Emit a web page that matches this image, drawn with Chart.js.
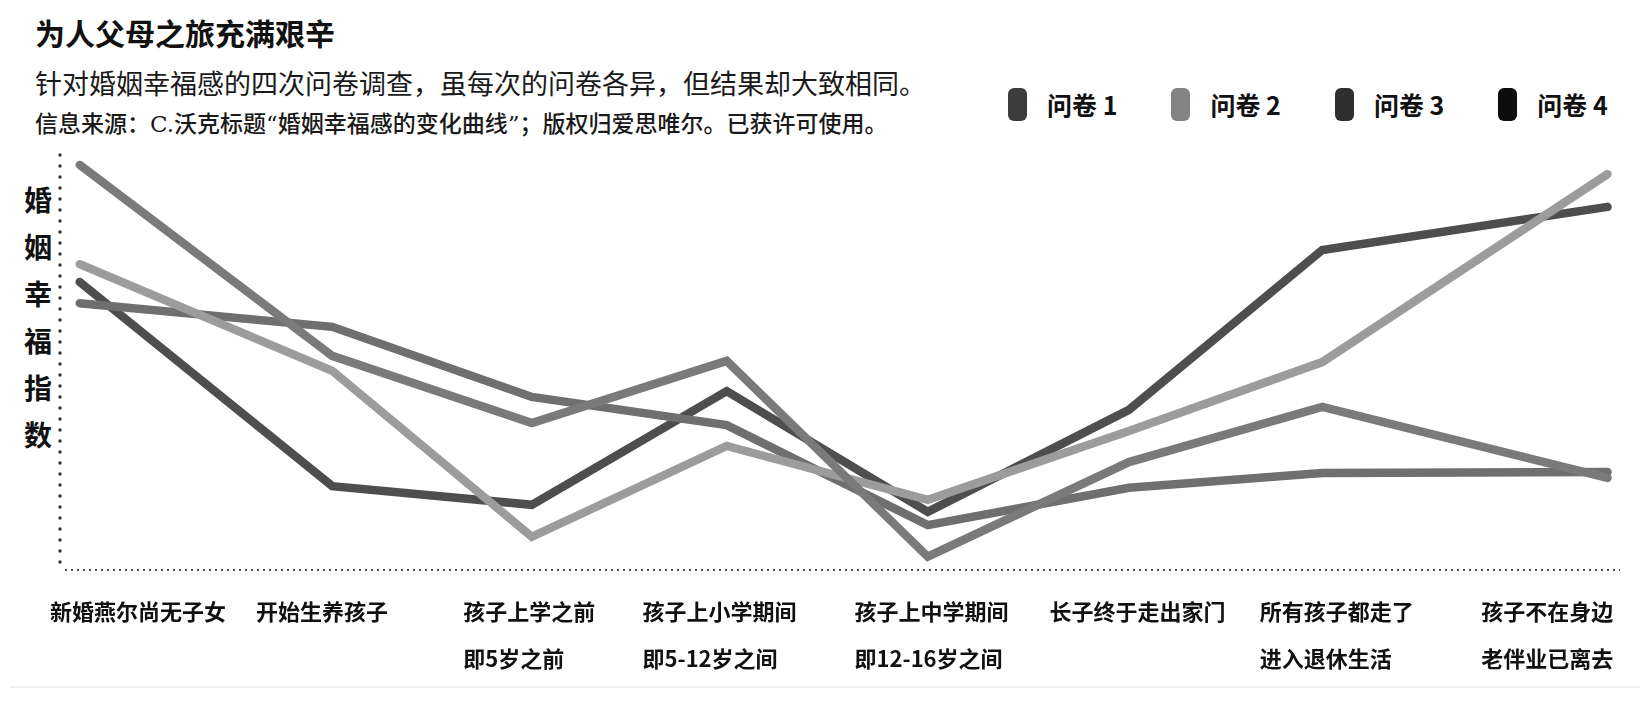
<!DOCTYPE html>
<html lang="zh-CN">
<head>
<meta charset="utf-8">
<title>为人父母之旅充满艰辛</title>
<script src="https://cdn.jsdelivr.net/npm/chart.js@4.4.1/dist/chart.umd.min.js"></script>
<style>
  html, body { margin: 0; padding: 0; background: #fff; }
  body { width: 1650px; height: 708px; position: relative; overflow: hidden;
         font-family: "Noto Sans CJK SC", "Noto Sans", sans-serif; color: #111; }
  #chart { position: absolute; left: 0; top: 0; }
  .title { position: absolute; left: 35px; top: 12px; font-size: 30px; font-weight: 700; line-height: 40px; }
  .subtitle { position: absolute; left: 35px; top: 66px; font-size: 27px; font-weight: 400; line-height: 38px;
              font-family: "DejaVu Serif", "Noto Sans CJK SC", serif; color: #1a1a1a; }
  .source { position: absolute; left: 35px; top: 108px; font-size: 23px; font-weight: 500; line-height: 32px;
            font-family: "DejaVu Serif", "Noto Sans CJK SC", serif; color: #1a1a1a; }
  .ylabel { position: absolute; left: 22px; top: 176px; width: 32px; font-size: 28px; font-weight: 700;
            line-height: 47px; text-align: center; }
  .legend { position: absolute; left: 1008px; top: 88px; display: flex; align-items: center; gap: 54px; }
  .legend .item { display: flex; align-items: center; }
  .legend .box { width: 19px; height: 33px; border-radius: 6px; margin-right: 20px; }
  .legend .txt { font-size: 25px; font-weight: 700; line-height: 33px; white-space: nowrap; }
  .rule { position: absolute; left: 10px; right: 10px; top: 686px; height: 2px; background: #efefef; }
</style>
</head>
<body>
<div class="title">为人父母之旅充满艰辛</div>
<div class="subtitle">针对婚姻幸福感的四次问卷调查，虽每次的问卷各异，但结果却大致相同。</div>
<div class="source">信息来源：C.沃克标题“婚姻幸福感的变化曲线”；版权归爱思唯尔。已获许可使用。</div>
<div class="ylabel" id="ylabel"></div>
<div class="legend" id="legend"></div>
<div class="rule"></div>
<canvas id="chart" width="1650" height="708"></canvas>

<script>
// 人生阶段（横轴）
const stages = [
  ['新婚燕尔尚无子女'],
  ['开始生养孩子'],
  ['孩子上学之前', '即5岁之前'],
  ['孩子上小学期间', '即5-12岁之间'],
  ['孩子上中学期间', '即12-16岁之间'],
  ['长子终于走出家门'],
  ['所有孩子都走了', '进入退休生活'],
  ['孩子不在身边', '老伴业已离去'],
];
// 各阶段在时间轴上的位置（0-100）
const stageX = [1.2, 17.4, 30.2, 42.7, 55.6, 68.5, 80.9, 99.2];
// 阶段文字左端的位置
const labelX = [-0.7, 12.5, 25.8, 37.3, 50.9, 63.4, 76.9, 91.1];

const seriesNames = ['问卷 1', '问卷 2', '问卷 3', '问卷 4'];
// 婚姻幸福指数（0-100，读自原图）
const survey1 = [97.6, 51.6, 35.4, 50.4, 3.2, 26.0, 39.3, 22.2];
const survey2 = [73.7, 48.0, 8.0, 29.9, 16.9, 33.5, 50.1, 95.4];
const survey3 = [64.3, 58.6, 41.7, 34.9, 10.8, 19.8, 23.4, 23.6];
const survey4 = [69.4, 20.2, 15.7, 43.1, 14.0, 38.6, 77.1, 87.5];

const lineColors = ['#7a7a7a', '#9c9c9c', '#6f6f6f', '#4e4e4e'];
const legendColors = ['#3c3c3c', '#838383', '#2f2f2f', '#0d0d0d'];

const yTitle = '婚姻幸福指数';

const toPoints = vals => vals.map((v, i) => ({ x: stageX[i], y: v }));
const allSeries = [survey1, survey2, survey3, survey4];

// 点状坐标轴（Chart.js v4 的 border.dash 只作用于网格线）
const dottedAxes = {
  id: 'dottedAxes',
  beforeDatasetsDraw(chart) {
    const { ctx, chartArea: { left, right, top, bottom } } = chart;
    ctx.save();
    // 纵轴：较大的圆点
    ctx.strokeStyle = '#333';
    ctx.lineWidth = 3.5;
    ctx.lineCap = 'round';
    ctx.setLineDash([0, 11]);
    ctx.beginPath();
    ctx.moveTo(left - 1, top);
    ctx.lineTo(left - 1, bottom);
    ctx.stroke();
    // 横轴：细密小点
    ctx.strokeStyle = '#555';
    ctx.lineWidth = 2;
    ctx.lineCap = 'butt';
    ctx.setLineDash([2, 4]);
    ctx.beginPath();
    ctx.moveTo(left + 4, bottom);
    ctx.lineTo(right, bottom);
    ctx.stroke();
    ctx.restore();
  },
};

const chart = new Chart(document.getElementById('chart'), {
  type: 'line',
  data: {
    datasets: allSeries.map((vals, i) => ({
      label: seriesNames[i],
      data: toPoints(vals),
      borderColor: lineColors[i],
      backgroundColor: legendColors[i],
      borderWidth: 8.5,
      borderCapStyle: 'round',
      pointRadius: 0,
      pointHoverRadius: 0,
      tension: 0,
      fill: false,
    })),
  },
  options: {
    responsive: false,
    animation: false,
    events: [],
    layout: { padding: { left: 61, right: 30, top: 155, bottom: 24 } },
    plugins: {
      legend: { display: false },
      tooltip: { enabled: false },
    },
    scales: {
      x: {
        type: 'linear',
        min: 0,
        max: 100,
        grid: { display: false, drawTicks: false },
        border: { display: false },
        afterBuildTicks: scale => { scale.ticks = labelX.map(v => ({ value: v })); },
        afterFit: scale => { scale.height = 114; },
        ticks: {
          align: 'start',
          autoSkip: false,
          maxRotation: 0,
          minRotation: 0,
          padding: 18,
          color: '#111',
          font: { family: '"Noto Sans CJK SC", sans-serif', size: 22, weight: 'bold', lineHeight: 2.14 },
          callback: (v, i) => stages[i],
        },
      },
      y: {
        type: 'linear',
        min: 0,
        max: 100,
        grid: { display: false, drawTicks: false },
        border: { display: false },
        ticks: { display: false },
        afterFit: scale => { scale.width = 0; },
      },
    },
  },
  plugins: [dottedAxes],
});

// 纵轴标题：竖排
document.getElementById('ylabel').innerHTML = [...yTitle].map(c => `<div>${c}</div>`).join('');

// 图例
document.getElementById('legend').innerHTML = chart.data.datasets.map((d, i) => `
  <div class="item">
    <div class="box" style="background:${legendColors[i]}"></div>
    <div class="txt">${d.label}</div>
  </div>`).join('');
</script>
</body>
</html>
